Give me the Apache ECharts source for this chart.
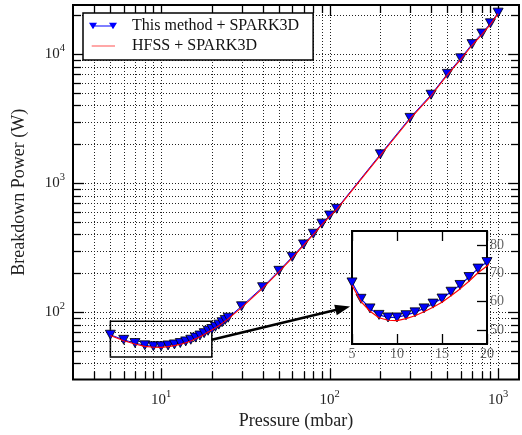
<!DOCTYPE html>
<html><head><meta charset="utf-8">
<script src="https://cdn.jsdelivr.net/npm/echarts@6/dist/echarts.min.js"></script>
<style>html,body{margin:0;padding:0;background:#fff}#c{width:522px;height:435px}</style>
</head><body><div id="c"></div>
<script>
// ---- data ----
const pressure = [5,6,7,8,9,10,11,12,13,14,15,16,17,18,19,20,21,22,23,24,25,30,40,50,60,70,80,90,100,110,200,300,400,500,600,700,800,900,1000];
const thisMethod = [66.8,61.0,57.6,55.3,54.4,54.4,55.2,56.2,57.6,59.3,61.1,63.5,65.9,68.7,71.7,74.0,77.0,80.0,83.5,87.0,90.5,111,156,209,268,335,405,485,561,632,1671,3202,4838,7021,9268,11940,14430,17310,20940];
const hfss = [65.8,60.0,56.6,54.3,53.4,53.3,54.0,55.0,56.4,58.0,59.8,62.1,64.5,67.2,70.2,72.6,75.5,78.5,81.8,85.2,88.6,108.5,153,205,263,329,398,477,552,622,1640,3140,4750,6900,9100,11700,14150,17000,20550];
const seriesNames = ['This method + SPARK3D', 'HFSS + SPARK3D'];

// axes / ticks
const xRange = [3, 1330];
const yRange = [30, 24000];
const xMajorExps = [1, 2, 3];
const yMajorExps = [2, 3, 4];
const xMinorTicks = [4,5,6,7,8,9,20,30,40,50,60,70,80,90,200,300,400,500,600,700,800,900];
const yMinorTicks = [40,50,60,70,80,90,200,300,400,500,600,700,800,900,2000,3000,4000,5000,6000,7000,8000,9000,20000];
const insetXRange = [5, 20];
const insetYRange = [45, 85];
const insetXTicks = [5, 10, 15, 20];
const insetYTicks = [50, 60, 70, 80];
const arrowFrom = [20, 61];
const arrowTo = [119.7, 107.2];
const xLabel = 'Pressure (mbar)';
const yLabel = 'Breakdown Power (W)';

const F = 'Liberation Serif';
const pairs = (ys) => pressure.map((p, i) => [p, ys[i]]);
const isPow10 = (v) => { const e = Math.log10(v); return Math.abs(e - Math.round(e)) < 1e-6; };
const xGridVals = xMinorTicks.concat(xMajorExps.map(e => Math.pow(10, e)));
const yGridVals = yMinorTicks.concat(yMajorExps.map(e => Math.pow(10, e)));

function powLabel(exps) {
  return function (v) {
    if (!isPow10(v)) return '';
    const e = Math.round(Math.log10(v));
    if (exps.indexOf(e) < 0) return '';
    return '{b|10}{s|' + e + '}';
  };
}
const rich = {
  b: { fontFamily: F, fontSize: 15, color: '#222', lineHeight: 22 },
  s: { fontFamily: F, fontSize: 10.5, color: '#222', lineHeight: 11, verticalAlign: 'top' }
};

const tickStyle = { stroke: '#000', lineWidth: 1.3 };
const dotStyle = { stroke: '#222', lineWidth: 1, lineDash: [1, 2] };

function renderXGrid(params, api) {
  const cs = params.coordSys;
  const v = api.value(0);
  const x = Math.round(api.coord([v, yRange[0]])[0]) + 0.5;
  const L = isPow10(v) ? 11 : 8;
  const b = cs.y + cs.height;
  return { type: 'group', children: [
    { type: 'line', shape: { x1: x, y1: cs.y, x2: x, y2: b }, style: dotStyle },
    { type: 'line', shape: { x1: x, y1: b, x2: x, y2: b - L }, style: tickStyle },
    { type: 'line', shape: { x1: x, y1: cs.y, x2: x, y2: cs.y + L }, style: tickStyle }
  ]};
}
function renderYGrid(params, api) {
  const cs = params.coordSys;
  const v = api.value(1);
  const y = Math.round(api.coord([xRange[0], v])[1]) + 0.5;
  const L = isPow10(v) ? 11 : 8;
  const r = cs.x + cs.width;
  return { type: 'group', children: [
    { type: 'line', shape: { x1: cs.x, y1: y, x2: r, y2: y }, style: dotStyle },
    { type: 'line', shape: { x1: cs.x, y1: y, x2: cs.x + L, y2: y }, style: tickStyle },
    { type: 'line', shape: { x1: r, y1: y, x2: r - L, y2: y }, style: tickStyle }
  ]};
}

const blueIcon = 'path://M0,0 L8,0 L4,6.5 Z M20,0 L28,0 L24,6.5 Z M4,2.7 L24,2.7 L24,3.8 L4,3.8 Z M38,3 L38,3 Z';
const redIcon = 'path://M2.7,3 L26,3 L26,4.2 L2.7,4.2 Z M0,3.6 L0,3.6 Z M38,3.6 L38,3.6 Z';

const chart = echarts.init(document.getElementById('c'), null, { renderer: 'canvas' });
chart.setOption({
  animation: false,
  backgroundColor: '#fff',
  grid: [
    { left: 73, top: 5, width: 446, height: 377, show: true, borderColor: '#000', borderWidth: 2, backgroundColor: 'transparent', z: 0 },
    { left: 352, top: 231, width: 135, height: 113, show: true, borderColor: '#000', borderWidth: 2, backgroundColor: '#fff', z: 5 }
  ],
  legend: {
    orient: 'vertical', left: 83, top: 13,
    padding: [4, 14, 5, 6], itemGap: 2, itemWidth: 38, itemHeight: 10,
    backgroundColor: '#fff', borderColor: '#000', borderWidth: 1.5, borderRadius: 0,
    selectedMode: false,
    textStyle: { fontFamily: F, fontSize: 16, color: '#111', lineHeight: 18 },
    data: [
      { name: seriesNames[0], icon: blueIcon, itemStyle: { color: '#0000ff', borderWidth: 0 } },
      { name: seriesNames[1], icon: redIcon, itemStyle: { color: '#ff5050', borderWidth: 0 } }
    ],
    z: 4
  },
  xAxis: [
    { type: 'log', logBase: 10, gridIndex: 0, min: xRange[0], max: xRange[1],
      name: xLabel, nameLocation: 'middle', nameGap: 28,
      nameTextStyle: { fontFamily: F, fontSize: 18, color: '#222' },
      axisLine: { show: false }, axisTick: { show: false }, splitLine: { show: false },
      axisLabel: { formatter: powLabel(xMajorExps), rich: rich, margin: 9 } },
    { type: 'value', gridIndex: 1, min: insetXRange[0], max: insetXRange[1], interval: 5, position: 'bottom', z: 6,
      axisLine: { show: false }, splitLine: { show: false },
      axisTick: { show: true, inside: true, length: 10, lineStyle: { color: '#000', width: 1.3 } },
      axisLabel: { fontFamily: F, fontSize: 14, color: '#666', margin: 3, customValues: insetXTicks } },
    { type: 'value', gridIndex: 1, min: insetXRange[0], max: insetXRange[1], interval: 5, position: 'top', z: 6,
      axisLine: { show: false }, splitLine: { show: false },
      axisTick: { show: true, inside: true, length: 10, lineStyle: { color: '#000', width: 1.3 } },
      axisLabel: { show: false } }
  ],
  yAxis: [
    { type: 'log', logBase: 10, gridIndex: 0, min: yRange[0], max: yRange[1],
      name: yLabel, nameLocation: 'middle', nameGap: 45,
      nameTextStyle: { fontFamily: F, fontSize: 18, color: '#222' },
      axisLine: { show: false }, axisTick: { show: false }, splitLine: { show: false },
      axisLabel: { formatter: powLabel(yMajorExps), rich: rich, margin: 8 } },
    { type: 'value', gridIndex: 1, min: insetYRange[0], max: insetYRange[1], position: 'right', z: 6,
      axisLine: { show: false }, splitLine: { show: false },
      axisTick: { show: true, inside: true, length: 10, customValues: insetYTicks, lineStyle: { color: '#000', width: 1.3 } },
      axisLabel: { fontFamily: F, fontSize: 14, color: '#666', margin: 3, customValues: insetYTicks } }
  ],
  series: [
    { type: 'custom', name: 'xgrid', xAxisIndex: 0, yAxisIndex: 0, silent: true, z: 1,
      renderItem: renderXGrid, data: xGridVals.map(v => [v, yRange[0]]) },
    { type: 'custom', name: 'ygrid', xAxisIndex: 0, yAxisIndex: 0, silent: true, z: 1,
      renderItem: renderYGrid, data: yGridVals.map(v => [xRange[0], v]) },
    { type: 'line', name: seriesNames[0], xAxisIndex: 0, yAxisIndex: 0, z: 2,
      data: pairs(thisMethod),
      lineStyle: { color: '#0000ff', width: 1 },
      symbol: 'triangle', symbolRotate: 180, symbolSize: [10, 9],
      itemStyle: { color: '#0000ff', borderColor: '#000', borderWidth: 0.8 },
      markArea: { silent: true, itemStyle: { color: 'rgba(0,0,0,0)', borderColor: '#000', borderWidth: 1.5 },
        data: [[{ coord: [insetXRange[0], insetYRange[0]] }, { coord: [insetXRange[1], insetYRange[1]] }]] } },
    { type: 'line', name: seriesNames[1], xAxisIndex: 0, yAxisIndex: 0, z: 3,
      data: pairs(hfss), showSymbol: false, symbol: 'none',
      lineStyle: { color: '#ff0000', width: 1.1 }, itemStyle: { color: '#ff0000' },
      markLine: { silent: true, symbol: ['none', 'triangle'], symbolSize: [11, 15],
        lineStyle: { color: '#000', width: 2.5, type: 'solid' }, label: { show: false },
        itemStyle: { color: '#000' },
        data: [[{ coord: arrowFrom }, { coord: arrowTo }]] } },
    { type: 'line', name: 'inset-this', xAxisIndex: 1, yAxisIndex: 1, z: 7, clip: true,
      data: pairs(thisMethod),
      lineStyle: { color: '#0000ff', width: 1.2 },
      symbol: 'triangle', symbolRotate: 180, symbolSize: [10, 9],
      itemStyle: { color: '#0000ff', borderColor: '#000', borderWidth: 0.8 } },
    { type: 'line', name: 'inset-hfss', xAxisIndex: 1, yAxisIndex: 1, z: 8, clip: true,
      data: pairs(hfss), showSymbol: false, symbol: 'none',
      lineStyle: { color: '#ff0000', width: 1.2 } }
  ]
});
</script>
</body></html>
